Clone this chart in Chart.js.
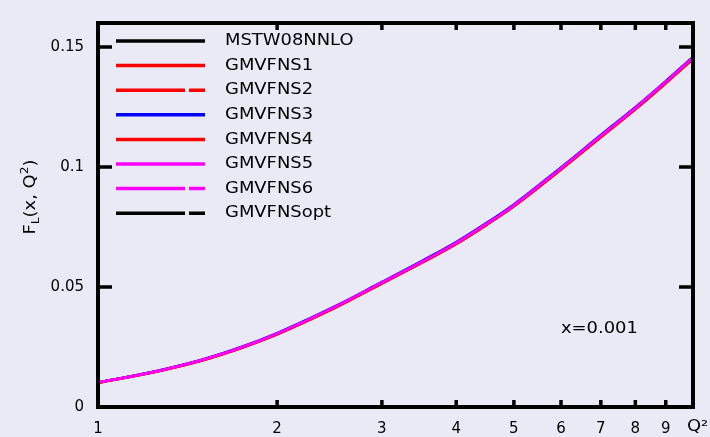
<!DOCTYPE html>
<html>
<head>
<meta charset="utf-8">
<script src="https://cdn.jsdelivr.net/npm/chart.js@4.4.1/dist/chart.umd.min.js"></script>
<style>
  html, body { margin: 0; padding: 0; background: #eaeaf6; }
  canvas { display: block; }
</style>
</head>
<body>
<canvas id="flChart" width="710" height="437"></canvas>
<script>
// Q^2 grid and F_L(x=0.001, Q^2)
const qValues = [1, 1.25, 1.5, 1.75, 2, 2.5, 3, 3.5, 4, 4.5, 5, 6, 7, 8, 9, 10];
const mstw08nnlo = [0.0102, 0.0148, 0.0197, 0.0250, 0.0306, 0.0416, 0.0518, 0.0604, 0.0683, 0.0763, 0.0840, 0.0994, 0.1129, 0.1245, 0.1354, 0.1455];
const gmvfns1 = [0.0101, 0.0147, 0.0195, 0.0248, 0.0303, 0.0413, 0.0514, 0.0600, 0.0679, 0.0759, 0.0836, 0.0989, 0.1124, 0.1240, 0.1349, 0.1450];
const gmvfns2 = [0.0102, 0.0147, 0.0196, 0.0249, 0.0304, 0.0414, 0.0516, 0.0602, 0.0681, 0.0761, 0.0838, 0.0991, 0.1126, 0.1242, 0.1351, 0.1452];
const gmvfns3 = [0.0102, 0.0149, 0.0198, 0.0252, 0.0308, 0.0419, 0.0521, 0.0608, 0.0687, 0.0767, 0.0844, 0.0998, 0.1133, 0.1249, 0.1358, 0.1459];
const gmvfns4 = [0.0101, 0.0147, 0.0195, 0.0248, 0.0303, 0.0413, 0.0515, 0.0601, 0.0680, 0.0760, 0.0837, 0.0990, 0.1125, 0.1241, 0.1350, 0.1451];
const gmvfns5 = [0.0102, 0.0148, 0.0197, 0.0250, 0.0306, 0.0416, 0.0518, 0.0604, 0.0683, 0.0763, 0.0840, 0.0994, 0.1129, 0.1245, 0.1354, 0.1455];
const gmvfns6 = [0.0102, 0.0148, 0.0197, 0.0250, 0.0306, 0.0417, 0.0519, 0.0605, 0.0684, 0.0764, 0.0841, 0.0995, 0.1130, 0.1246, 0.1355, 0.1456];
const gmvfnsOpt = [0.0102, 0.0148, 0.0197, 0.0250, 0.0306, 0.0416, 0.0518, 0.0604, 0.0683, 0.0763, 0.0840, 0.0994, 0.1129, 0.1245, 0.1354, 0.1455];

const seriesLabels = ['MSTW08NNLO', 'GMVFNS1', 'GMVFNS2', 'GMVFNS3', 'GMVFNS4', 'GMVFNS5', 'GMVFNS6', 'GMVFNSopt'];
const xTickValues = [1, 2, 3, 4, 5, 6, 7, 8, 9, 10];
const xTickLabels = ['1', '2', '3', '4', '5', '6', '7', '8', '9', ''];
const yTickValues = [0, 0.05, 0.1, 0.15];
const yTickLabels = ['0', '0.05', '0.1', '0.15'];

const FONT = "'DejaVu Sans', sans-serif";
const STRETCH = 1.12; // the original text is a bit wider than the font

function pts(ys) {
    return qValues.map((q, i) => ({ x: q, y: ys[i] }));
}

function series(label, ys, color, dash, order) {
    return {
        label: label,
        data: pts(ys),
        borderColor: color,
        backgroundColor: color,
        borderWidth: 2.5,
        borderDash: dash,
        pointRadius: 0,
        cubicInterpolationMode: 'monotone',
        fill: false,
        order: order
    };
}

const dashed = [69, 4];

// frame with inward ticks on all four sides (gnuplot look)
const framePlugin = {
    id: 'frame',
    afterDraw(chart) {
        const ctx = chart.ctx;
        const a = chart.chartArea;
        const xs = chart.scales.x;
        const ys = chart.scales.y;
        ctx.save();
        ctx.strokeStyle = '#000';
        ctx.lineWidth = 3.5;
        ctx.beginPath();
        xs.ticks.forEach(t => {
            const px = xs.getPixelForValue(t.value);
            if (px <= a.left + 1 || px >= a.right - 1) return;
            ctx.moveTo(px, a.bottom); ctx.lineTo(px, a.bottom - 7);
            ctx.moveTo(px, a.top); ctx.lineTo(px, a.top + 7);
        });
        ys.ticks.forEach(t => {
            const py = ys.getPixelForValue(t.value);
            if (py >= a.bottom - 1) return;
            ctx.moveTo(a.left, py); ctx.lineTo(a.left + 14, py);
            ctx.moveTo(a.right, py); ctx.lineTo(a.right - 14, py);
        });
        ctx.stroke();
        ctx.lineWidth = 4;
        ctx.strokeRect(a.left, a.top, a.right - a.left, a.bottom - a.top);
        ctx.restore();
    }
};

function stretchedText(ctx, text, x, y, size) {
    ctx.save();
    ctx.translate(x, y);
    ctx.scale(STRETCH, 1);
    ctx.font = size + 'px ' + FONT;
    ctx.fillText(text, 0, 0);
    ctx.restore();
}

// legend in the top-left corner of the plot + annotations
const notesPlugin = {
    id: 'notes',
    afterDraw(chart) {
        const ctx = chart.ctx;
        ctx.save();
        ctx.fillStyle = '#000';
        ctx.textBaseline = 'middle';
        chart.data.datasets.forEach((ds, i) => {
            const y = 41 + i * 24.6;
            ctx.save();
            ctx.strokeStyle = ds.borderColor;
            ctx.lineWidth = 3.5;
            ctx.setLineDash(ds.borderDash || []);
            ctx.beginPath();
            ctx.moveTo(116, y);
            ctx.lineTo(205, y);
            ctx.stroke();
            ctx.restore();
            stretchedText(ctx, ds.label, 225, y, 16);
        });

        stretchedText(ctx, 'x=0.001', 561, 329, 16);

        // x-axis title at the right end
        ctx.textBaseline = 'top';
        stretchedText(ctx, 'Q²', 687, 419, 16);

        // y-axis title, rotated
        ctx.save();
        ctx.translate(35, 197);
        ctx.rotate(-Math.PI / 2);
        ctx.scale(STRETCH, 1);
        ctx.textBaseline = 'alphabetic';
        const parts = [
            { t: 'F', s: 16, dy: 0 },
            { t: 'L', s: 11, dy: 4 },
            { t: '(x, Q', s: 16, dy: 0 },
            { t: '2', s: 11, dy: -7 },
            { t: ')', s: 16, dy: 0 }
        ];
        let total = 0;
        parts.forEach(p => { ctx.font = p.s + 'px ' + FONT; p.w = ctx.measureText(p.t).width; total += p.w; });
        let cx = -total / 2;
        parts.forEach(p => {
            ctx.font = p.s + 'px ' + FONT;
            ctx.fillText(p.t, cx, p.dy);
            cx += p.w;
        });
        ctx.restore();
        ctx.restore();
    }
};

const ctx = document.getElementById('flChart').getContext('2d');
const flChart = new Chart(ctx, {
    type: 'line',
    data: {
        datasets: [
            series(seriesLabels[0], mstw08nnlo, '#000000', [], 4),
            series(seriesLabels[1], gmvfns1, '#ff0000', [], 2),
            series(seriesLabels[2], gmvfns2, '#ff0000', dashed, 2),
            series(seriesLabels[3], gmvfns3, '#0000ff', [], 3),
            series(seriesLabels[4], gmvfns4, '#ff0000', [], 2),
            series(seriesLabels[5], gmvfns5, '#ff00ff', [], 1),
            series(seriesLabels[6], gmvfns6, '#ff00ff', dashed, 1),
            series(seriesLabels[7], gmvfnsOpt, '#000000', dashed, 4)
        ]
    },
    options: {
        responsive: false,
        animation: false,
        layout: { padding: { top: 16, right: 17, left: 0, bottom: 0 } },
        plugins: {
            legend: { display: false },
            tooltip: { enabled: false }
        },
        scales: {
            x: {
                type: 'logarithmic',
                min: 1,
                max: 10,
                grid: { display: false, drawTicks: false },
                border: { display: false },
                afterBuildTicks: axis => { axis.ticks = xTickValues.map(v => ({ value: v })); },
                afterFit: axis => { axis.height = 30; },
                ticks: {
                    autoSkip: false,
                    maxRotation: 0,
                    padding: 13,
                    color: '#000',
                    font: { family: FONT, size: 15 },
                    callback: (value, index) => xTickLabels[index]
                }
            },
            y: {
                type: 'linear',
                min: 0,
                max: 0.16,
                grid: { display: false, drawTicks: false },
                border: { display: false },
                afterBuildTicks: axis => { axis.ticks = yTickValues.map(v => ({ value: v })); },
                afterFit: axis => { axis.width = 98; },
                ticks: {
                    padding: 14,
                    color: '#000',
                    font: { family: FONT, size: 15 },
                    callback: (value, index) => yTickLabels[index]
                }
            }
        }
    },
    plugins: [framePlugin, notesPlugin]
});
</script>
</body>
</html>
